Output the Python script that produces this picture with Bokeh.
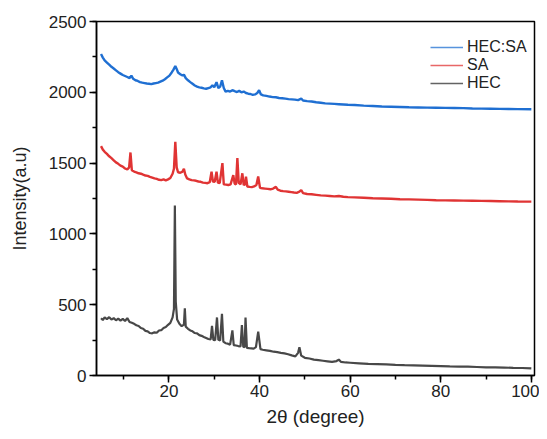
from bokeh.plotting import figure
from bokeh.models import SingleIntervalTicker, Legend, LegendItem, Range1d
from bokeh.embed import file_html
from bokeh.resources import INLINE

# ---- data ----
hec_x = [5.0, 5.4, 5.8, 6.3, 6.8, 7.3, 7.8, 8.3, 8.8, 9.3, 9.8, 10.3, 10.8, 11.3, 11.8, 12.3, 12.8,
         13.3, 13.8, 14.3, 14.8, 15.3, 15.8, 16.3, 16.8, 17.3, 17.8, 18.3, 18.8, 19.3, 19.8, 20.3,
         20.8, 21.1, 21.3, 21.5, 21.8, 22.3, 22.8, 23.3, 23.5, 23.7, 24.2, 24.7, 25.2, 25.7, 26.2,
         26.7, 27.2, 27.7, 28.2, 28.7, 29.2, 29.5, 29.8, 30.2, 30.6, 30.9, 31.3, 31.7, 32.0, 32.5,
         33.0, 33.5, 34.0, 34.3, 34.8, 35.3, 35.8, 36.1, 36.4, 36.7, 36.9, 37.2, 37.7, 38.2, 38.7,
         39.2, 39.7, 40.2, 40.7, 41.5, 42.3, 43.1, 43.9, 44.7, 45.5, 46.3, 47.1, 47.9, 48.5, 48.8,
         49.2, 50.0, 51, 52, 53, 54, 55, 56, 57, 57.5, 58, 59, 60, 62, 64, 66, 68, 70, 72, 74, 76,
         78, 80, 82, 84, 86, 88, 90, 92, 94, 96, 98, 100]
hec_y = [405, 392, 410, 398, 412, 395, 405, 390, 402, 388, 400, 385, 405, 378, 372, 365, 355,
         350, 335, 330, 315, 312, 300, 298, 305, 302, 318, 320, 335, 342, 358, 372,
         410, 470, 1200, 520, 395, 365, 348, 360, 475, 345, 330, 318, 312, 300, 298,
         285, 280, 272, 265, 258, 255, 350, 252, 250, 410, 252, 248, 435, 240, 228,
         225, 218, 318, 215, 212, 208, 205, 357, 204, 200, 410, 195, 193, 192, 190,
         200, 310, 186, 182, 178, 174, 168, 165, 160, 156, 150, 142, 135, 160, 200,
         140, 125, 120, 112, 108, 104, 100, 96, 102, 112, 96, 92, 90, 86, 82, 80, 78, 75, 73, 72, 70,
         68, 66, 64, 63, 62, 60, 58, 57, 56, 54, 53, 50]

sa_x = [5.0, 5.4, 5.8, 6.3, 6.8, 7.3, 7.8, 8.3, 8.8, 9.3, 9.8, 10.3, 10.8, 11.2, 11.5, 11.8, 12.3,
        12.8, 13.3, 13.8, 14.3, 14.8, 15.3, 15.8, 16.3, 16.8, 17.3, 17.8, 18.3, 18.8, 19.3, 19.8,
        20.3, 20.8, 21.1, 21.4, 21.7, 22.0, 22.5, 23.0, 23.3, 23.6, 24.0, 24.5, 25.0, 25.5, 26.0,
        26.5, 27.0, 27.5, 28.0, 28.5, 29.0, 29.4, 29.7, 30.1, 30.5, 30.8, 31.2, 31.8, 32.1, 32.6,
        33.1, 33.6, 34.2, 34.5, 34.8, 35.1, 35.4, 35.8, 36.2, 36.5, 36.8, 37.0, 37.3, 37.8, 38.3,
        38.8, 39.3, 39.7, 40.1, 40.6, 41.2, 41.8, 42.4, 43.0, 43.6, 44.0, 44.6, 45.2, 45.8, 46.4,
        47.0, 47.6, 48.2, 48.8, 49.2, 49.6, 50.5, 51.5, 52.5, 53.5, 54.5, 55.5, 56.5, 57.5, 58.5,
        59.5, 61, 63, 65, 67, 69, 71, 73, 75, 77, 79, 81, 83, 85, 87, 89, 91, 93, 95, 97, 100]
sa_y = [1620, 1595, 1580, 1565, 1548, 1535, 1520, 1505, 1495, 1482, 1475, 1462, 1455, 1470, 1575, 1450, 1440,
        1435, 1428, 1425, 1418, 1412, 1410, 1403, 1398, 1392, 1388, 1382, 1380, 1385, 1378, 1385,
        1395, 1425, 1460, 1650, 1470, 1435, 1432, 1440, 1460, 1420, 1392, 1385, 1380, 1378, 1375,
        1370, 1368, 1362, 1360, 1358, 1365, 1440, 1370, 1368, 1440, 1362, 1358, 1500, 1350, 1348,
        1345, 1350, 1415, 1355, 1350, 1535, 1360, 1350, 1428, 1345, 1350, 1405, 1335, 1332, 1330,
        1335, 1345, 1405, 1325, 1322, 1320, 1318, 1315, 1320, 1332, 1312, 1305, 1302, 1300, 1298,
        1295, 1292, 1290, 1298, 1310, 1288, 1282, 1280, 1276, 1272, 1270, 1268, 1265, 1268, 1262,
        1260, 1258, 1255, 1252, 1250, 1248, 1245, 1244, 1242, 1240, 1238, 1237, 1236, 1235, 1234, 1233, 1232, 1231, 1230, 1229, 1228]

mix_x = [5.0, 5.4, 5.8, 6.3, 6.8, 7.3, 7.8, 8.3, 8.8, 9.3, 9.8, 10.3, 10.8, 11.3, 11.7, 12.1, 12.6,
         13.1, 13.6, 14.1, 14.6, 15.1, 15.6, 16.1, 16.6, 17.1, 17.6, 18.1, 18.6, 19.1, 19.6, 20.1,
         20.6, 21.0, 21.4, 21.7, 22.0, 22.5, 23.0, 23.3, 23.7, 24.2, 24.7, 25.2, 25.7, 26.2, 26.7,
         27.2, 27.7, 28.2, 28.7, 29.2, 29.6, 30.0, 30.5, 30.9, 31.3, 31.7, 32.1, 32.5, 33.0, 33.5,
         34.0, 34.5, 35.0, 35.5, 36.0, 36.5, 37.0, 37.5, 38.0, 38.5, 39.0, 39.5, 39.9, 40.3, 40.8,
         41.5, 42.2, 42.9, 43.6, 44.3, 45.0, 45.7, 46.4, 47.1, 47.8, 48.5, 49.2, 49.6, 50.5, 51.5,
         52.5, 53.5, 54.5, 55.5, 56.5, 57.5, 58.5, 59.5, 61, 63, 65, 67, 69, 71, 73, 75, 77, 79,
         81, 83, 85, 87, 89, 91, 93, 95, 97, 100]
mix_y = [2270, 2245, 2225, 2210, 2195, 2180, 2168, 2155, 2142, 2132, 2122, 2115, 2108, 2100, 2118, 2095, 2085,
         2080, 2072, 2068, 2065, 2062, 2060, 2058, 2062, 2065, 2068, 2075, 2082, 2092, 2105, 2118,
         2140, 2160, 2185, 2165, 2140, 2128, 2118, 2125, 2100, 2085, 2072, 2060, 2048, 2040, 2035,
         2032, 2028, 2025, 2030, 2035, 2050, 2035, 2072, 2030, 2040, 2085, 2030, 2005, 2010, 2005,
         2015, 2008, 2002, 2010, 2000, 2005, 1995, 1990, 1988, 1982, 1985, 1995, 2015, 1985, 1978,
         1975, 1970, 1966, 1965, 1960, 1958, 1955, 1952, 1950, 1948, 1945, 1955, 1942, 1938, 1935,
         1930, 1926, 1922, 1920, 1918, 1916, 1914, 1912, 1910, 1906, 1903, 1900, 1898, 1896, 1894, 1893, 1892, 1891,
         1890, 1889, 1888, 1886, 1885, 1884, 1883, 1882, 1881, 1880]

series_names = ["HEC:SA", "SA", "HEC"]
series_colors = ["#1f6fd2", "#e03434", "#484848"]

FONT = "Liberation Sans"

p = figure(width=539, height=431, output_backend="svg", toolbar_location=None,
           x_range=Range1d(4, 100.7), y_range=Range1d(0, 2500),
           min_border_left=96, min_border_right=5, min_border_top=21, min_border_bottom=56)

p.line(mix_x, mix_y, line_color=series_colors[0], line_width=2.4)
p.line(sa_x, sa_y, line_color=series_colors[1], line_width=2.4)
p.line(hec_x, hec_y, line_color=series_colors[2], line_width=2.2)

# thinner legend-key renderers (single point each, so nothing is drawn in the plot)
leg_mix = p.line(mix_x[:1], mix_y[:1], line_color=series_colors[0], line_width=1.6, line_alpha=0.75)
leg_sa = p.line(sa_x[:1], sa_y[:1], line_color=series_colors[1], line_width=1.6, line_alpha=0.75)
leg_hec = p.line(hec_x[:1], hec_y[:1], line_color=series_colors[2], line_width=1.4, line_alpha=0.85)

p.xgrid.visible = False
p.ygrid.visible = False
p.outline_line_color = "black"
p.outline_line_width = 1.5
p.outline_line_alpha = 1.0
p.background_fill_color = "white"
p.border_fill_color = "white"

p.xaxis.ticker = SingleIntervalTicker(interval=20, num_minor_ticks=2)
p.yaxis.ticker = SingleIntervalTicker(interval=500, num_minor_ticks=2)
for ax in (p.xaxis[0], p.yaxis[0]):
    ax.axis_line_color = "black"
    ax.axis_line_width = 1.5
    ax.major_tick_line_color = "black"
    ax.major_tick_line_width = 1.5
    ax.minor_tick_line_color = "black"
    ax.minor_tick_line_width = 1.5
    ax.major_tick_in = 0
    ax.major_tick_out = 7
    ax.minor_tick_in = 0
    ax.minor_tick_out = 4
    ax.major_label_text_font = FONT
    ax.major_label_text_font_size = "17px"
    ax.major_label_text_color = "#222222"
    ax.axis_label_text_font = FONT
    ax.axis_label_text_font_style = "normal"
    ax.axis_label_text_color = "#222222"

p.xaxis.axis_label_text_font_size = "19px"
p.yaxis.axis_label_text_font_size = "18px"
p.xaxis.axis_label = "2θ (degree)"
p.yaxis.axis_label = "Intensity(a.u)"
p.xaxis.major_label_standoff = 2
p.yaxis.major_label_standoff = 3
p.xaxis.axis_label_standoff = 6
p.yaxis.axis_label_standoff = 16

legend = Legend(items=[LegendItem(label=series_names[0], renderers=[leg_mix]),
                       LegendItem(label=series_names[1], renderers=[leg_sa]),
                       LegendItem(label=series_names[2], renderers=[leg_hec])],
                location=(334, 283))
legend.border_line_color = None
legend.background_fill_alpha = 0
legend.label_text_font = FONT
legend.label_text_font_size = "16px"
legend.label_text_color = "#222222"
legend.glyph_width = 33
legend.glyph_height = 18
legend.label_height = 18
legend.label_standoff = 4
legend.spacing = 0
legend.padding = 0
legend.margin = 0
p.add_layout(legend)

open("out.html", "w").write(file_html(p, INLINE))
